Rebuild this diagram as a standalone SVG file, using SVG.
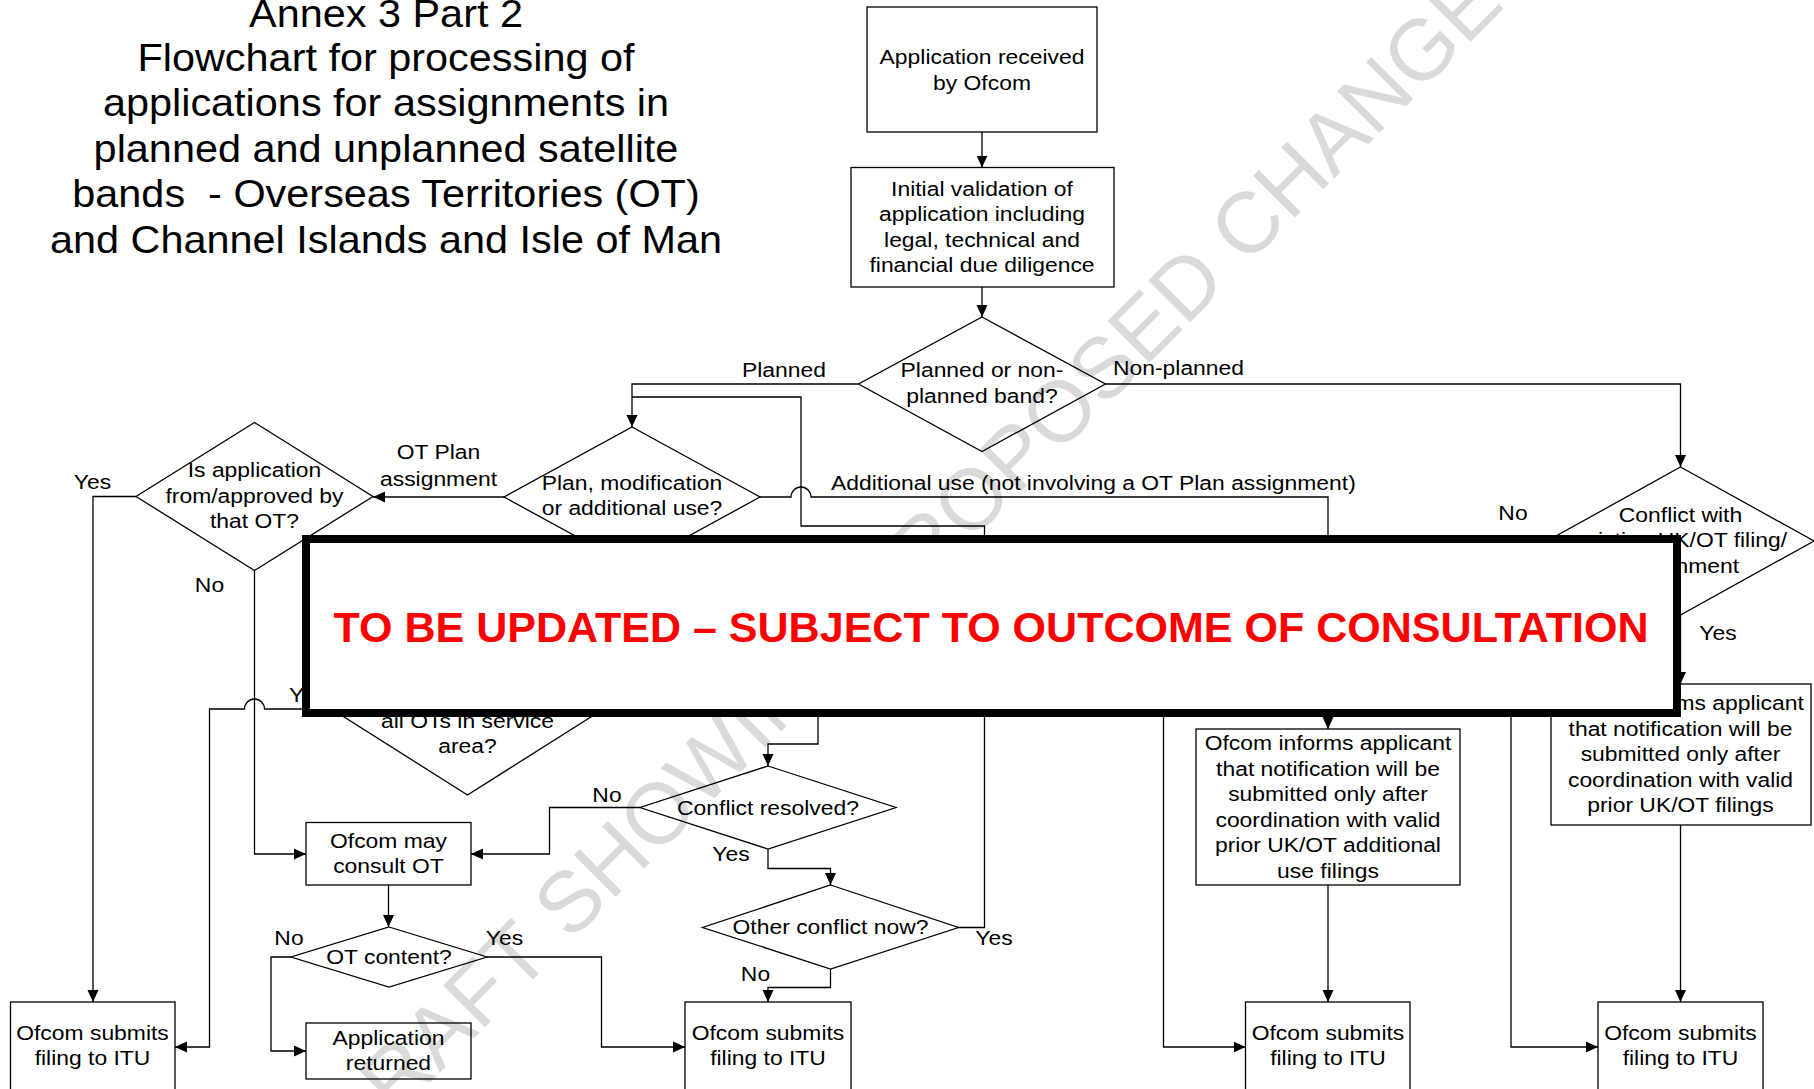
<svg xmlns="http://www.w3.org/2000/svg" width="1814" height="1089" viewBox="0 0 1814 1089">
<style>
.n{fill:none;stroke:#000;stroke-width:1.3}
.c{fill:none;stroke:#000;stroke-width:1.3;marker-end:url(#ah)}
.p{fill:none;stroke:#000;stroke-width:1.3}
text{font-family:"Liberation Sans",Arial,sans-serif;font-size:21px;fill:#000}
.m{text-anchor:middle}
.e{text-anchor:end}
.ttl{font-size:38px;text-anchor:middle}
.wm{font-size:86px;fill:#dadada;text-anchor:middle;dominant-baseline:central}
.bn{font-size:43px;font-weight:bold;fill:#ff0000;text-anchor:middle}
</style>
<defs>
<marker id="ah" viewBox="0 0 12 12" refX="12" refY="6" markerWidth="12" markerHeight="12" markerUnits="userSpaceOnUse" orient="auto"><path d="M0,0.5 L12,6 L0,11.5 z" fill="#000"/></marker>
</defs>
<rect width="1814" height="1089" fill="#fff"/>
<g id="watermark"><text class="wm" x="928" y="542" transform="rotate(-45 928 542)">DRAFT SHOWING PROPOSED CHANGES</text></g>

<g id="title" transform="matrix(1.09 0 0 1 -34.74 0)">
<text class="ttl" x="386" y="27">Annex 3 Part 2</text>
<text class="ttl" x="386" y="70.7">Flowchart for processing of</text>
<text class="ttl" x="386" y="116.3">applications for assignments in</text>
<text class="ttl" x="386" y="161.9">planned and unplanned satellite</text>
<text class="ttl" x="386" y="207.5" style="white-space:pre">bands  - Overseas Territories (OT)</text>
<text class="ttl" x="386" y="253.1">and Channel Islands and Isle of Man</text>
</g>

<g id="connectors">
<path class="c" d="M982,132 V167.5"/>
<path class="c" d="M982,287 V317"/>
<path class="c" d="M858.5,384 H632 V427"/>
<path class="c" d="M1105.5,384 H1680.5 V467"/>
<path class="p" d="M958.5,927.5 H984.5 V526 H801 V397 H632"/>
<path class="c" d="M504,497 H373"/>
<path class="c" d="M760,497 H791 A10,10 0 0 1 811,497 H1328 V729"/>
<path class="c" d="M136,496.5 H93 V1002"/>
<path class="c" d="M254.5,570.5 V854 H306"/>
<path class="c" d="M331.5,709 H264.5 A10,10 0 0 0 244.5,709 H209.5 V1047 H175"/>
<path class="c" d="M388.5,885 V927"/>
<path class="c" d="M291,957 H271 V1051 H306"/>
<path class="c" d="M487,957 H601.5 V1047 H685"/>
<path class="c" d="M818,650 V744 H768 V766"/>
<path class="c" d="M640,807.5 H549.5 V854 H471"/>
<path class="c" d="M768,849 V868.5 H830.5 V885"/>
<path class="c" d="M830.5,969 V987.5 H768 V1002"/>
<path class="c" d="M1163.5,650 V1047 H1245.5"/>
<path class="c" d="M1328,885 V1002"/>
<path class="c" d="M1547,541 H1511 V1047 H1598"/>
<path class="c" d="M1680.5,615 V684"/>
<path class="c" d="M1680.5,825 V1002"/>
</g>

<g id="labels">
<text class="e" x="826" y="377" transform="matrix(1.09 0 0 1 -74.34 0)">Planned</text>
<text x="1113" y="375.5" transform="matrix(1.09 0 0 1 -100.17 0)">Non-planned</text>
<g transform="matrix(1.09 0 0 1 -39.465 0)"><text class="m" x="438.5" y="459.5">OT Plan</text><text class="m" x="438.5" y="486">assignment</text></g>
<text x="831" y="490" transform="matrix(1.09 0 0 1 -74.79 0)">Additional use (not involving a OT Plan assignment)</text>
<text class="m" x="92.5" y="489" transform="matrix(1.09 0 0 1 -8.325 0)">Yes</text>
<text class="m" x="209.5" y="592.5" transform="matrix(1.09 0 0 1 -18.855 0)">No</text>
<text x="289" y="702" transform="matrix(1.09 0 0 1 -26.01 0)">Yes</text>
<text class="m" x="1513" y="520" transform="matrix(1.09 0 0 1 -136.17 0)">No</text>
<text class="m" x="1718" y="640" transform="matrix(1.09 0 0 1 -154.62 0)">Yes</text>
<text class="m" x="607" y="802.5" transform="matrix(1.09 0 0 1 -54.63 0)">No</text>
<text class="m" x="731" y="861.5" transform="matrix(1.09 0 0 1 -65.79 0)">Yes</text>
<text class="m" x="289" y="945.5" transform="matrix(1.09 0 0 1 -26.01 0)">No</text>
<text class="m" x="504.5" y="945.5" transform="matrix(1.09 0 0 1 -45.405 0)">Yes</text>
<text class="m" x="755.5" y="981.5" transform="matrix(1.09 0 0 1 -67.995 0)">No</text>
<text class="m" x="994" y="945.5" transform="matrix(1.09 0 0 1 -89.46 0)">Yes</text>
</g>

<g id="app-received"><rect class="n" x="867" y="7" width="230" height="125"/>
<g transform="matrix(1.09 0 0 1 -88.38 0)"><text class="m" x="982" y="64.3">Application received</text><text class="m" x="982" y="89.8">by Ofcom</text></g></g>

<g id="initial-validation"><rect class="n" x="851" y="167.5" width="263" height="119.5"/>
<g transform="matrix(1.09 0 0 1 -88.38 0)"><text class="m" x="982" y="196">Initial validation of</text><text class="m" x="982" y="221.5">application including</text><text class="m" x="982" y="247">legal, technical and</text><text class="m" x="982" y="272.5">financial due diligence</text></g></g>

<g id="planned-band"><polygon class="n" points="982,317 1105.5,384 982,451.5 858.5,384"/>
<g transform="matrix(1.09 0 0 1 -88.38 0)"><text class="m" x="982" y="377.5">Planned or non-</text><text class="m" x="982" y="403.5">planned band?</text></g></g>

<g id="plan-mod"><polygon class="n" points="632,427 760,497 632,567 504,497"/>
<g transform="matrix(1.09 0 0 1 -56.88 0)"><text class="m" x="632" y="490.5">Plan, modification</text><text class="m" x="632" y="515">or additional use?</text></g></g>

<g id="from-ot"><polygon class="n" points="254.5,422.5 373,496.5 254.5,570.5 136,496.5"/>
<g transform="matrix(1.09 0 0 1 -22.905 0)"><text class="m" x="254.5" y="477.5">Is application</text><text class="m" x="254.5" y="503">from/approved by</text><text class="m" x="254.5" y="528.5">that OT?</text></g></g>

<g id="conflict-existing"><polygon class="n" points="1680.5,467 1814,541 1680.5,615 1547,541"/>
<g transform="matrix(1.09 0 0 1 -151.245 0)"><text class="m" x="1680.5" y="522">Conflict with</text><text class="m" x="1680.5" y="547.5">existing UK/OT filing/</text><text class="m" x="1680.5" y="573">assignment</text></g></g>

<g id="all-ots"><polygon class="n" points="467.5,623 603.5,709 467.5,795 331.5,709"/>
<g transform="matrix(1.09 0 0 1 -42.075 0)"><text class="m" x="467.5" y="728">all OTs in service</text><text class="m" x="467.5" y="753.5">area?</text></g></g>

<g id="consult-ot"><rect class="n" x="306" y="822.5" width="165" height="62.5"/>
<g transform="matrix(1.09 0 0 1 -34.965 0)"><text class="m" x="388.5" y="848.5">Ofcom may</text><text class="m" x="388.5" y="873">consult OT</text></g></g>

<g id="ot-content"><polygon class="n" points="389,927 487,957 389,987 291,957"/>
<text class="m" x="389" y="964" transform="matrix(1.09 0 0 1 -35.01 0)">OT content?</text></g>

<g id="app-returned"><rect class="n" x="306" y="1023" width="165" height="56"/>
<g transform="matrix(1.09 0 0 1 -34.965 0)"><text class="m" x="388.5" y="1045.5">Application</text><text class="m" x="388.5" y="1070.5">returned</text></g></g>

<g id="conflict-resolved"><polygon class="n" points="768,766 896,807.5 768,849 640,807.5"/>
<text class="m" x="768" y="815" transform="matrix(1.09 0 0 1 -69.12 0)">Conflict resolved?</text></g>

<g id="other-conflict"><polygon class="n" points="830.5,885 958.5,927.5 830.5,969 702.5,927.5"/>
<text class="m" x="830.5" y="934.5" transform="matrix(1.09 0 0 1 -74.745 0)">Other conflict now?</text></g>

<g id="itu-1"><rect class="n" x="10.5" y="1002" width="164.5" height="100"/>
<g transform="matrix(1.09 0 0 1 -8.325 0)"><text class="m" x="92.5" y="1040">Ofcom submits</text><text class="m" x="92.5" y="1065.5">filing to ITU</text></g></g>

<g id="itu-2"><rect class="n" x="685" y="1002" width="166" height="100"/>
<g transform="matrix(1.09 0 0 1 -69.12 0)"><text class="m" x="768" y="1040">Ofcom submits</text><text class="m" x="768" y="1065.5">filing to ITU</text></g></g>

<g id="informs-additional"><rect class="n" x="1196" y="729" width="264" height="156"/>
<g transform="matrix(1.09 0 0 1 -119.52 0)"><text class="m" x="1328" y="750.5">Ofcom informs applicant</text><text class="m" x="1328" y="776">that notification will be</text><text class="m" x="1328" y="801.5">submitted only after</text><text class="m" x="1328" y="827">coordination with valid</text><text class="m" x="1328" y="852.5">prior UK/OT additional</text><text class="m" x="1328" y="878">use filings</text></g></g>

<g id="itu-3"><rect class="n" x="1245.5" y="1002" width="164.5" height="100"/>
<g transform="matrix(1.09 0 0 1 -119.52 0)"><text class="m" x="1328" y="1040">Ofcom submits</text><text class="m" x="1328" y="1065.5">filing to ITU</text></g></g>

<g id="informs-prior"><rect class="n" x="1551" y="684" width="260" height="141"/>
<g transform="matrix(1.09 0 0 1 -151.245 0)"><text class="m" x="1680.5" y="710.5">Ofcom informs applicant</text><text class="m" x="1680.5" y="736">that notification will be</text><text class="m" x="1680.5" y="761.5">submitted only after</text><text class="m" x="1680.5" y="787">coordination with valid</text><text class="m" x="1680.5" y="812.5">prior UK/OT filings</text></g></g>

<g id="itu-4"><rect class="n" x="1598" y="1002" width="165" height="100"/>
<g transform="matrix(1.09 0 0 1 -151.245 0)"><text class="m" x="1680.5" y="1040">Ofcom submits</text><text class="m" x="1680.5" y="1065.5">filing to ITU</text></g></g>

<g id="banner"><rect x="306" y="539" width="1371" height="174" fill="#fff" stroke="#000" stroke-width="8"/>
<text class="bn" x="991" y="642" textLength="1315" lengthAdjust="spacingAndGlyphs">TO BE UPDATED – SUBJECT TO OUTCOME OF CONSULTATION</text></g>
</svg>
